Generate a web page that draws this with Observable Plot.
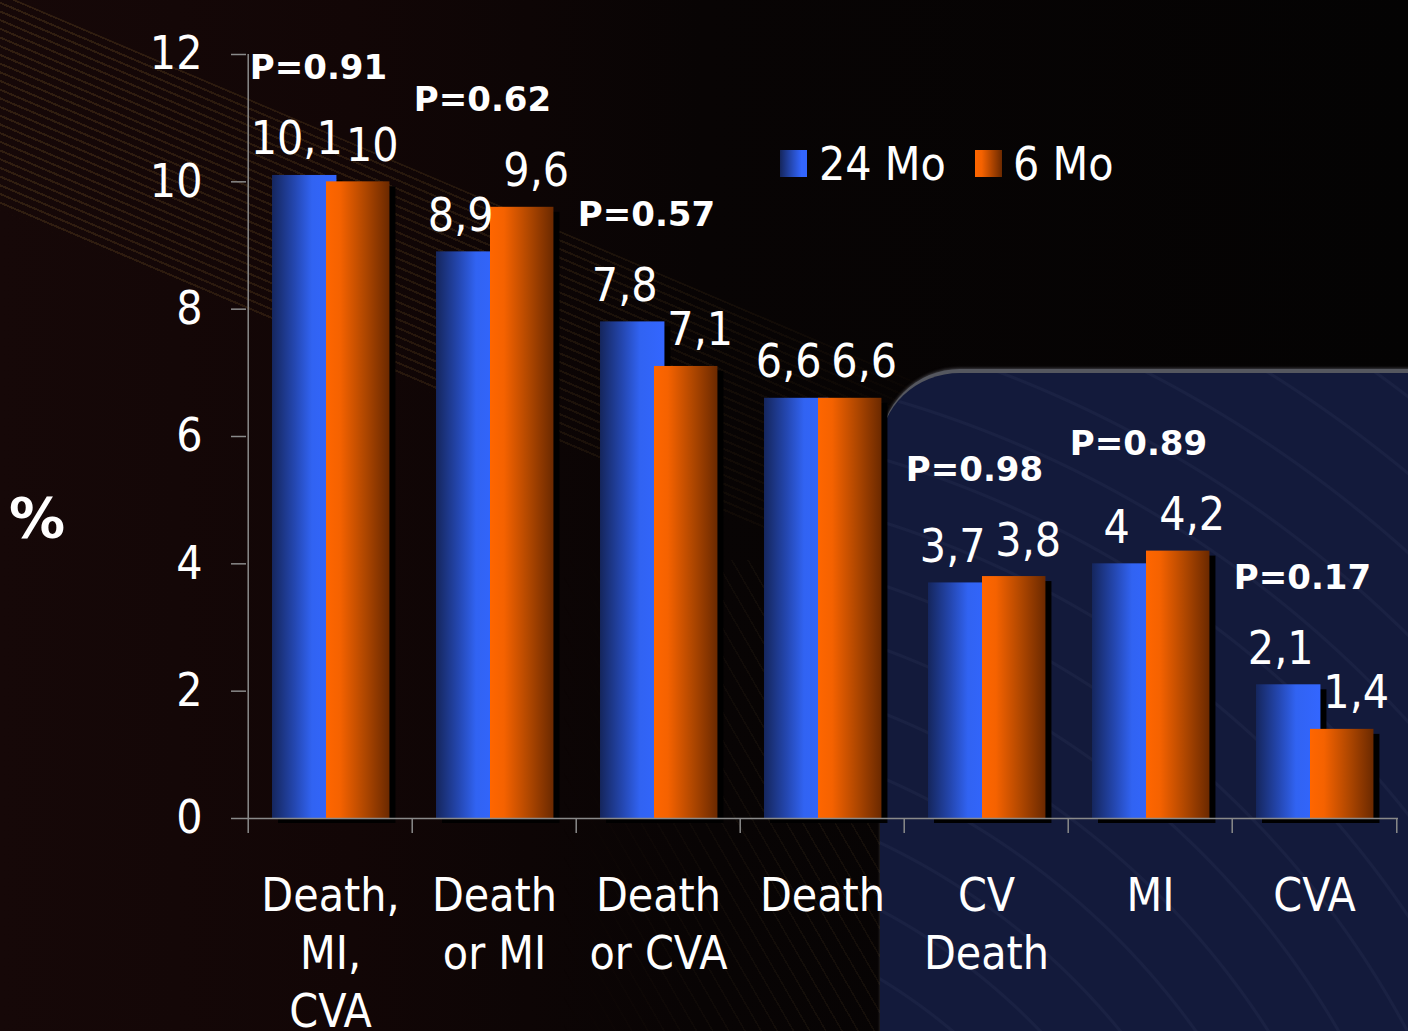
<!DOCTYPE html>
<html>
<head>
<meta charset="utf-8">
<script src="https://cdn.jsdelivr.net/npm/d3@7"></script>
<script src="https://cdn.jsdelivr.net/npm/@observablehq/plot@0.6"></script>
<style>
  html, body { margin: 0; padding: 0; background: #050303; }
  #stage {
    position: relative; width: 1408px; height: 1031px; overflow: hidden;
    background: linear-gradient(90deg, #160808 0%, #120606 25%, #080404 50%, #040303 100%);
    font-family: "DejaVu Sans Condensed", "DejaVu Sans", sans-serif; color: #fff;
  }
  .band {
    position: absolute; left: -160px; top: -75px; width: 1250px; height: 200px;
    transform-origin: 0 0; transform: rotate(23deg);
    background: repeating-linear-gradient(180deg, rgba(135,100,45,0.30) 0 2px, rgba(0,0,0,0) 2px 8px);
    -webkit-mask-image: linear-gradient(90deg, rgba(0,0,0,0.9), rgba(0,0,0,0.6) 60%, rgba(0,0,0,0));
    mask-image: linear-gradient(90deg, rgba(0,0,0,0.9), rgba(0,0,0,0.6) 60%, rgba(0,0,0,0));
  }
  .band2 {
    position: absolute; left: 560px; top: 560px; width: 420px; height: 600px;
    background: repeating-linear-gradient(60deg, rgba(120,100,60,0.14) 0 1.5px, rgba(0,0,0,0) 1.5px 14px);
    -webkit-mask-image: linear-gradient(90deg, rgba(0,0,0,0), rgba(0,0,0,0.8) 60%, rgba(0,0,0,0.8));
    mask-image: linear-gradient(90deg, rgba(0,0,0,0), rgba(0,0,0,0.8) 60%, rgba(0,0,0,0.8));
  }
  .panel {
    position: absolute; left: 880px; top: 369px; width: 700px; height: 800px;
    background: #131a3b;
    border-top: 4px solid #55575f;
    border-top-left-radius: 80px;
    box-shadow: 0 -1px 3px rgba(120,120,130,0.5);
  }
  .panel::after {
    content: ""; position: absolute; inset: 0; border-top-left-radius: 80px;
    background: repeating-radial-gradient(circle at -300px 1100px, rgba(140,150,190,0) 0 36px, rgba(140,150,190,0.06) 37px 39px, rgba(140,150,190,0) 40px 60px);
  }
  #chart { position: absolute; left: 0; top: 0; }
  .legend { position: absolute; top: 141px; left: 780px; font-size: 46px; line-height: 46px; white-space: nowrap; }
  .legend .sw { position: absolute; top: 9px; width: 27px; height: 27px; }
  .legend .lbl { position: absolute; top: 0; }
  .pct { position: absolute; left: 9px; top: 490px; font-family: "DejaVu Sans", sans-serif; font-weight: bold; font-size: 56px; line-height: 56px; }
</style>
</head>
<body>
<div id="stage">
  <div class="band"></div>
  <div class="band2"></div>
  <div class="panel"></div>
  <div id="chart"></div>
  <div class="pct">%</div>
  <div class="legend" id="legend"></div>
</div>
<script>
// ---- data ----
const categories = ["Death,\nMI,\nCVA", "Death\nor MI", "Death\nor CVA", "Death", "CV\nDeath", "MI", "CVA"];
const mo24 = [10.1, 8.9, 7.8, 6.6, 3.7, 4.0, 2.1];
const mo6 = [10.0, 9.6, 7.1, 6.6, 3.8, 4.2, 1.4];
const pValues = ["P=0.91", "P=0.62", "P=0.57", "", "P=0.98", "P=0.89", "P=0.17"];
const yTicks = [0, 2, 4, 6, 8, 10, 12];
const seriesNames = ["24 Mo", "6 Mo"];

// ---- layout ----
const W = 1408, H = 1031;
const mL = 246, mR = 10, mT = 54, mB = 213;
const bw = (W - mL - mR) / categories.length;
const pxPerUnit = (H - mT - mB) / 12;
const fmt = v => String(v).replace(".", ",");
const rows = categories.map((c, i) => ({cat: c, a: mo24[i], b: mo6[i], p: pValues[i], top: Math.max(mo24[i], mo6[i])}));
const axisGrey = "#8a8a8a";
const condensed = "\"DejaVu Sans Condensed\", \"DejaVu Sans\", sans-serif";

const blueL = 24, blueR = 89, orL = 78, orR = 142;

const chart = Plot.plot({
  width: W, height: H,
  marginLeft: mL, marginRight: mR, marginTop: mT, marginBottom: mB,
  style: {background: "transparent", color: "white", fontFamily: condensed, overflow: "visible"},
  x: {domain: categories, padding: 0, label: null},
  y: {domain: [0, 12], label: null},
  marks: [
    // bars: shadow + body for each series
    Plot.barY(rows, {x: "cat", y: "a", insetLeft: blueL, insetRight: bw - blueR, fill: "black", dx: 6, dy: 5}),
    Plot.barY(rows, {x: "cat", y: "a", insetLeft: blueL, insetRight: bw - blueR, fill: "url(#gBlue)"}),
    Plot.barY(rows, {x: "cat", y: "b", insetLeft: orL, insetRight: bw - orR, fill: "black", dx: 6, dy: 5}),
    Plot.barY(rows, {x: "cat", y: "b", insetLeft: orL, insetRight: bw - orR, fill: "url(#gOrange)"}),
    // axes lines
    Plot.ruleY([0], {stroke: axisGrey, strokeWidth: 1.5}),
    Plot.ruleX([categories[0]], {x: d => d, dx: -bw / 2, y1: 0, y2: 12, stroke: axisGrey, strokeWidth: 1.5}),
    Plot.ruleX(categories, {x: d => d, dx: -bw / 2, y1: 0, y2: -15 / pxPerUnit, stroke: axisGrey, strokeWidth: 1.5}),
    Plot.ruleX([categories[categories.length - 1]], {x: d => d, dx: bw / 2, y1: 0, y2: -15 / pxPerUnit, stroke: axisGrey, strokeWidth: 1.5}),
    Plot.axisY(yTicks, {tickSize: 15, tickPadding: 29, fontSize: 46, stroke: axisGrey, fill: "white", strokeWidth: 1.5, tickFormat: d => String(d), label: null}),
    Plot.axisX({tickSize: 0, tickPadding: 51, fontSize: 46, lineHeight: 1.26, fill: "white", label: null}),
    // value labels
    Plot.text(rows, {x: "cat", y: "a", text: d => fmt(d.a), dx: -bw / 2 + (blueL + blueR) / 2 - 8, dy: -21, lineAnchor: "bottom", textAnchor: "middle", fontSize: 46, fill: "white"}),
    Plot.text(rows, {x: "cat", y: "b", text: d => fmt(d.b), dx: -bw / 2 + (orL + orR) / 2 + 14, dy: -21, lineAnchor: "bottom", textAnchor: "middle", fontSize: 46, fill: "white"}),
    // p-values
    Plot.text(rows.filter(d => d.p), {x: "cat", y: "top", text: "p", dx: -12, dy: -96, lineAnchor: "bottom", fontSize: 34, fontWeight: "bold", fontFamily: "\"DejaVu Sans\", sans-serif", fill: "white"})
  ]
});

// gradients for the 3D-style bars
const defs = d3.select(chart).insert("defs", ":first-child");
const gb = defs.append("linearGradient").attr("id", "gBlue").attr("x1", "0").attr("x2", "1").attr("y1", "0").attr("y2", "0");
gb.append("stop").attr("offset", "0%").attr("stop-color", "#15265d");
gb.append("stop").attr("offset", "35%").attr("stop-color", "#2447b0");
gb.append("stop").attr("offset", "62%").attr("stop-color", "#3163f2");
gb.append("stop").attr("offset", "100%").attr("stop-color", "#3366ff");
const go = defs.append("linearGradient").attr("id", "gOrange").attr("x1", "0").attr("x2", "1").attr("y1", "0").attr("y2", "0");
go.append("stop").attr("offset", "0%").attr("stop-color", "#ff6600");
go.append("stop").attr("offset", "22%").attr("stop-color", "#f56200");
go.append("stop").attr("offset", "60%").attr("stop-color", "#b24800");
go.append("stop").attr("offset", "100%").attr("stop-color", "#6b2900");

document.getElementById("chart").appendChild(chart);

// legend
const legend = document.getElementById("legend");
const swatchFills = ["linear-gradient(90deg,#15265d,#2447b0 40%,#3366ff 80%)", "linear-gradient(90deg,#ff6600,#f56200 25%,#6b2900)"];
const legendX = [[0, 39], [195, 233]];
seriesNames.forEach((name, i) => {
  const sw = document.createElement("div");
  sw.className = "sw"; sw.style.left = legendX[i][0] + "px"; sw.style.background = swatchFills[i];
  const t = document.createElement("div");
  t.className = "lbl"; t.style.left = legendX[i][1] + "px"; t.textContent = name;
  legend.appendChild(sw); legend.appendChild(t);
});
</script>
</body>
</html>
